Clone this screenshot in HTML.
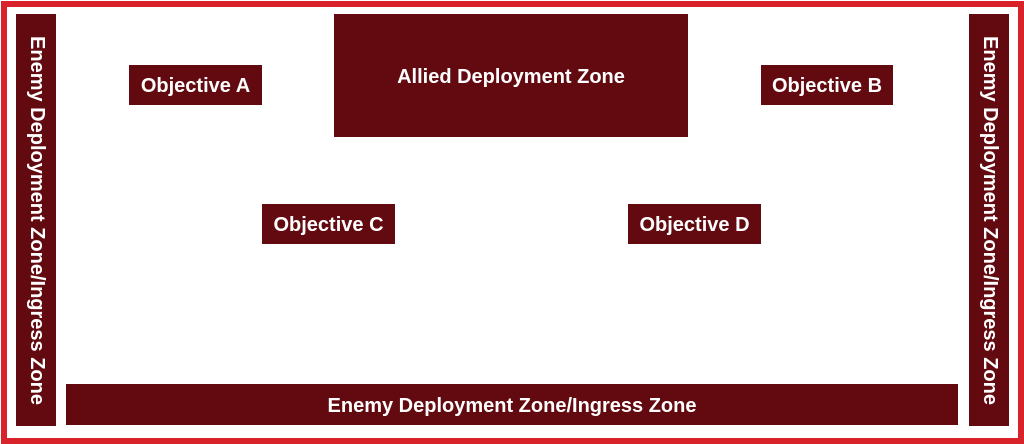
<!DOCTYPE html>
<html><head><style>
body{margin:0;width:1024px;height:443px;background:#fff;position:relative;overflow:hidden;font-family:"Liberation Sans",sans-serif;font-weight:bold;color:#fff}
.frame{position:absolute;left:1px;top:1px;width:1011px;height:431px;border:6px solid #d9232a}
.b{position:absolute;background:#620a10;display:flex;align-items:center;justify-content:center;font-size:20px;white-space:nowrap;box-sizing:border-box;padding-top:3px}
.v{padding-top:0}
.v span{transform:rotate(90deg);display:block}
</style></head><body>
<div class="frame"></div>
<div class="b v" style="left:16px;top:14px;width:40px;height:412px"><span>Enemy Deployment Zone/Ingress Zone</span></div>
<div class="b v" style="left:969px;top:14px;width:40px;height:412px"><span>Enemy Deployment Zone/Ingress Zone</span></div>
<div class="b" style="left:66px;top:384px;width:892px;height:41px">Enemy Deployment Zone/Ingress Zone</div>
<div class="b" style="left:334px;top:14px;width:354px;height:123px;align-items:flex-start;padding-top:52px">Allied Deployment Zone</div>
<div class="b" style="left:129px;top:65px;width:133px;height:40px">Objective A</div>
<div class="b" style="left:761px;top:65px;width:132px;height:40px">Objective B</div>
<div class="b" style="left:262px;top:204px;width:133px;height:40px">Objective C</div>
<div class="b" style="left:628px;top:204px;width:133px;height:40px">Objective D</div>
</body></html>
